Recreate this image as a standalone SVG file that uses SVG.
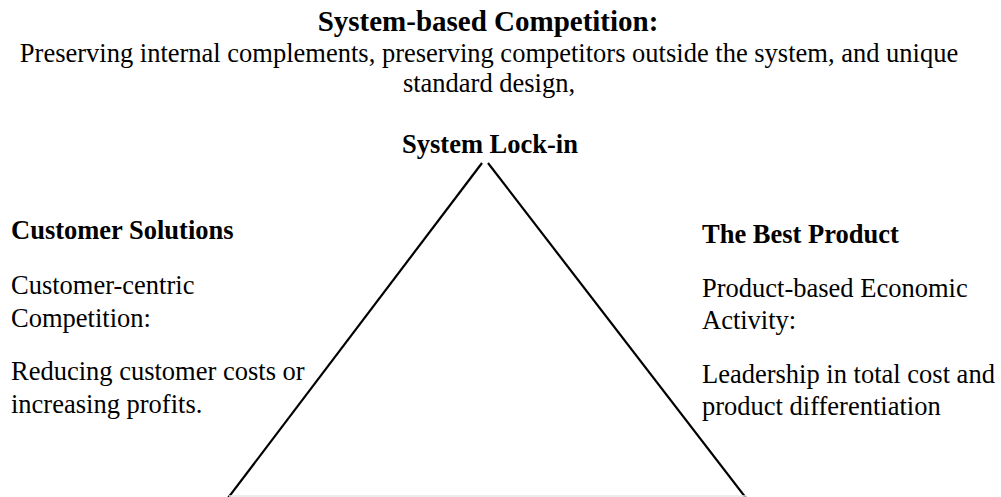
<svg xmlns="http://www.w3.org/2000/svg" width="1001" height="497" viewBox="0 0 1001 497">
<style>
text { font-family: "Liberation Serif", "Times New Roman", serif; fill: #000; }
.b { font-weight: bold; }
.t { font-size: 29px; }
.n { font-size: 26.5px; }
.c { text-anchor: middle; }
.edge { stroke: #000; stroke-width: 2.2; fill: none; }
</style>
<rect x="0" y="0" width="1001" height="497" fill="#fff"/>
<g id="header">
<text class="b t c" x="488" y="31">System-based Competition:</text>
<text class="n c" x="489" y="62">Preserving internal complements, preserving competitors outside the system, and unique</text>
<text class="n c" x="489" y="92">standard design,</text>
</g>
<g id="node-lockin">
<text class="b n c" x="490" y="153">System Lock-in</text>
</g>
<g id="node-customer">
<text class="b n" x="11" y="239">Customer Solutions</text>
<text class="n" x="11" y="294">Customer-centric</text>
<text class="n" x="11" y="327">Competition:</text>
<text class="n" x="11" y="380">Reducing customer costs or</text>
<text class="n" x="11" y="413">increasing profits.</text>
</g>
<g id="node-product">
<text class="b n" x="702" y="243">The Best Product</text>
<text class="n" x="702" y="297">Product-based Economic</text>
<text class="n" x="702" y="329">Activity:</text>
<text class="n" x="702" y="383">Leadership in total cost and</text>
<text class="n" x="702" y="415">product differentiation</text>
</g>
<g id="connectors">
<line class="edge" x1="482" y1="163" x2="228" y2="498"/>
<line class="edge" x1="488" y1="163" x2="746" y2="498"/>
<line x1="229" y1="496" x2="746" y2="496" stroke="#e6e6e6" stroke-width="1.5"/>
</g>
</svg>
